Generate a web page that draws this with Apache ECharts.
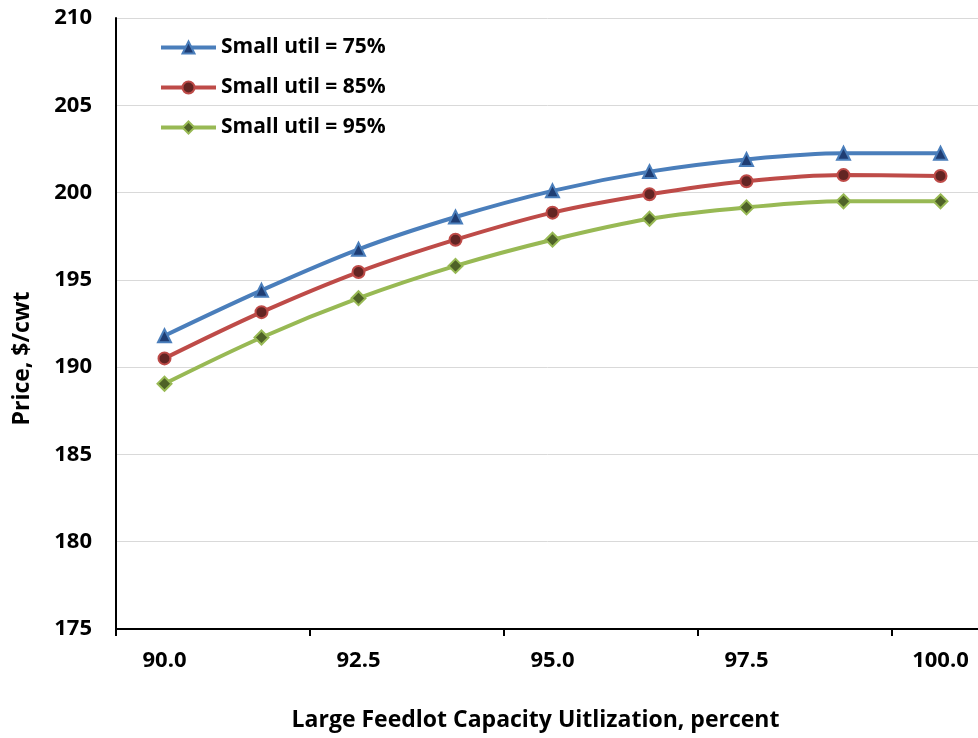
<!DOCTYPE html>
<html>
<head>
<meta charset="utf-8">
<script src="https://cdn.jsdelivr.net/npm/echarts@6/dist/echarts.min.js"></script>
<style>html,body{margin:0;padding:0;background:#fff}#c{width:978px;height:738px}</style>
</head>
<body>
<div id="c"></div>
<script>
const categories = ['90.0','91.25','92.5','93.75','95.0','96.25','97.5','98.75','100.0'];
const util75 = [191.8, 194.4, 196.75, 198.6, 200.1, 201.2, 201.9, 202.25, 202.25];
const util85 = [190.5, 193.15, 195.45, 197.3, 198.85, 199.9, 200.65, 201.0, 200.95];
const util95 = [189.05, 191.7, 193.95, 195.8, 197.3, 198.5, 199.15, 199.5, 199.5];
const seriesNames = ['Small util = 75%','Small util = 85%','Small util = 95%'];

const font = '"Open Sans", "Liberation Sans", sans-serif';
const chart = echarts.init(document.getElementById('c'));
function mk(name, data, line, fill, symbol, size) {
  return {
    name, type: 'line', data, smooth: 0.35,
    symbol, symbolSize: size,
    lineStyle: { color: line, width: 4 },
    itemStyle: { color: fill, borderColor: line, borderWidth: 2 },
    emphasis: { disabled: true }
  };
}
chart.setOption({
  animation: false,
  grid: { left: 116, top: 18, width: 873, bottom: 109, containLabel: false, outerBoundsMode: 'none' },
  legend: {
    left: 154, top: 32, orient: 'vertical',
    itemWidth: 55, itemHeight: 15, itemGap: 19,
    lineStyle: { width: 4 },
    textStyle: { fontFamily: font, fontWeight: 'bold', fontSize: 21, lineHeight: 14, color: '#000' },
    data: seriesNames
  },
  xAxis: {
    type: 'category', data: categories, boundaryGap: true,
    name: 'Large Feedlot Capacity Uitlization, percent',
    nameLocation: 'middle', nameGap: 80,
    nameTextStyle: { fontFamily: font, fontWeight: 'bold', fontSize: 23, color: '#000', padding: [0, 34, 0, 0] },
    axisLine: { lineStyle: { color: '#000', width: 2 } },
    axisTick: { show: true, length: 7, lineStyle: { color: '#000', width: 2 }, alignWithLabel: false },
    axisLabel: { interval: 1, margin: 21, fontFamily: font, fontWeight: 'bold', fontSize: 22, color: '#000' },
    splitLine: { show: false }
  },
  yAxis: {
    type: 'value', min: 175, max: 210, interval: 5,
    name: 'Price, $/cwt', nameLocation: 'middle', nameGap: 82,
    nameTextStyle: { fontFamily: font, fontWeight: 'bold', fontSize: 23, color: '#000', padding: [0, 70, 0, 0] },
    axisLine: { show: true, lineStyle: { color: '#000', width: 2 } },
    axisTick: { show: false },
    axisLabel: { margin: 24, fontFamily: font, fontWeight: 'bold', fontSize: 22, color: '#000' },
    splitLine: { show: true, lineStyle: { color: '#d9d9d9', width: 1 } }
  },
  series: [
    mk(seriesNames[0], util75, '#4a7ebb', '#1f3d73', 'triangle', 13),
    mk(seriesNames[1], util85, '#be4b48', '#632523', 'circle', 12),
    mk(seriesNames[2], util95, '#98b954', '#4f6228', 'diamond', 14)
  ]
});
</script>
</body>
</html>
